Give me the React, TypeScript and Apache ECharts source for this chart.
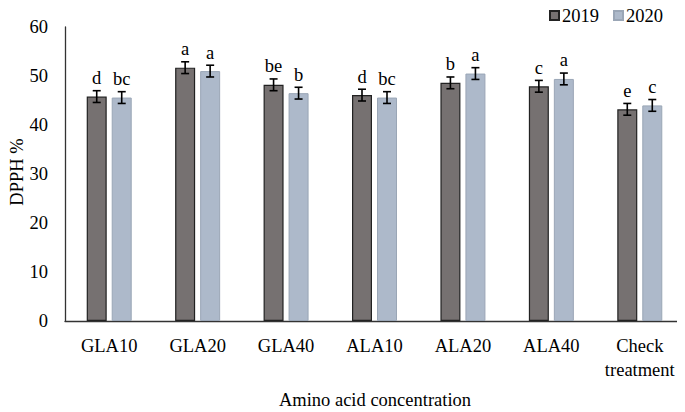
import React, { useEffect, useRef } from "react";
import * as echarts from "echarts";

const categories = ["GLA10", "GLA20", "GLA40", "ALA10", "ALA20", "ALA40", "Check\ntreatment"];
const values2019 = [45.8, 51.7, 48.2, 46.1, 48.6, 47.9, 43.2];
const values2020 = [45.6, 51.0, 46.5, 45.6, 50.5, 49.4, 44.0];
const errors2019 = [1.2, 1.2, 1.2, 1.2, 1.2, 1.2, 1.2];
const errors2020 = [1.2, 1.2, 1.2, 1.2, 1.2, 1.2, 1.2];
const letters2019 = ["d", "a", "be", "d", "b", "c", "e"];
const letters2020 = ["bc", "a", "b", "bc", "a", "a", "c"];
const yTicks = [0, 10, 20, 30, 40, 50, 60];
const xTitle = "Amino acid concentration";
const yTitle = "DPPH %";

const FONT = '"Liberation Serif", "Times New Roman", serif';
const FS = 18.5;
const BAR_W = 20;
const GAP = 5;

function errorSeries(name: string, vals: number[], errs: number[], offset: number) {
  return {
    type: "custom",
    name: name + "_err",
    silent: true,
    z: 10,
    data: vals.map((v, i) => [i, v, errs[i]]),
    encode: { x: 0, y: 1 },
    renderItem: (params: any, api: any) => {
      const x = api.value(0);
      const y = api.value(1);
      const e = api.value(2);
      const hi = api.coord([x, y + e]);
      const lo = api.coord([x, y - e]);
      const cx = hi[0] + offset;
      const cap = 4;
      const style = { stroke: "#000", lineWidth: 1.6 };
      return {
        type: "group",
        children: [
          { type: "line", shape: { x1: cx, y1: hi[1], x2: cx, y2: lo[1] }, style },
          { type: "line", shape: { x1: cx - cap, y1: hi[1], x2: cx + cap, y2: hi[1] }, style },
          { type: "line", shape: { x1: cx - cap, y1: lo[1], x2: cx + cap, y2: lo[1] }, style },
        ],
      };
    },
  };
}

export default function App() {
  const ref = useRef<HTMLDivElement>(null);
  useEffect(() => {
    if (!ref.current) return;
    const chart = echarts.init(ref.current, undefined, { renderer: "svg" });
    const off = (BAR_W + GAP) / 2;
    const letterLabel = (letters: string[]) => ({
      show: true,
      position: "top",
      distance: 9,
      fontFamily: FONT,
      fontSize: FS,
      color: "#000",
      formatter: (p: any) => letters[p.dataIndex],
    });
    chart.setOption({
      animation: false,
      backgroundColor: "#fff",
      textStyle: { fontFamily: FONT },
      legend: {
        top: 1,
        right: 17,
        itemWidth: 9,
        itemHeight: 9,
        itemGap: 14,
        icon: "rect",
        textStyle: { fontFamily: FONT, fontSize: FS, color: "#000", padding: [0, 0, 0, -2] },
        data: ["2019", "2020"],
      },
      graphic: [
        {
          type: "text",
          x: 17,
          y: 172,
          rotation: Math.PI / 2,
          style: {
            text: yTitle,
            fontFamily: FONT,
            fontSize: FS,
            fill: "#000",
            align: "center",
            textAlign: "center",
            verticalAlign: "middle",
            textVerticalAlign: "middle",
          },
        },
        {
          type: "text",
          x: 375,
          y: 400,
          style: {
            text: xTitle,
            fontFamily: FONT,
            fontSize: FS,
            fill: "#000",
            align: "center",
            textAlign: "center",
            verticalAlign: "middle",
            textVerticalAlign: "middle",
          },
        },
      ],
      grid: {
        left: 65,
        right: 1,
        top: 27,
        bottom: 91,
        containLabel: false,
        outerBoundsMode: "none",
      },
      xAxis: {
        type: "category",
        data: categories,
        axisLine: { lineStyle: { color: "#333", width: 1.3 } },
        axisTick: { show: false },
        axisLabel: {
          fontFamily: FONT,
          fontSize: FS,
          color: "#000",
          margin: 13,
          lineHeight: 24,
          interval: 0,
        },
      },
      yAxis: {
        type: "value",
        min: 0,
        max: 60,
        interval: 10,
        axisLine: { show: true, lineStyle: { color: "#333", width: 1.3 } },
        axisTick: { show: false },
        splitLine: { show: false },
        axisLabel: {
          fontFamily: FONT,
          fontSize: FS,
          color: "#000",
          margin: 17,
          formatter: (v: number) => (yTicks.includes(v) ? String(v) : ""),
        },
      },
      series: [
        {
          name: "2019",
          type: "bar",
          data: values2019,
          barWidth: BAR_W,
          barGap: "25%",
          itemStyle: { color: "#767171", borderColor: "#222", borderWidth: 1.2 },
          label: letterLabel(letters2019),
        },
        {
          name: "2020",
          type: "bar",
          data: values2020,
          barWidth: BAR_W,
          itemStyle: { color: "#ADB9CA", borderColor: "#9AA6B6", borderWidth: 1 },
          label: letterLabel(letters2020),
        },
        errorSeries("2019", values2019, errors2019, -off),
        errorSeries("2020", values2020, errors2020, off),
      ],
    });
    return () => chart.dispose();
  }, []);
  return <div ref={ref} style={{ width: 685, height: 412, marginLeft: -8, marginTop: -8 }} />;
}
